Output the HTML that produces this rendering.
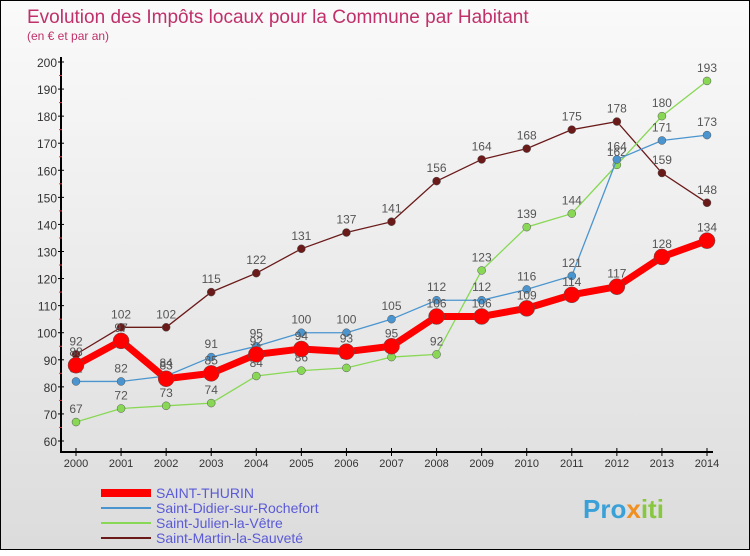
<!DOCTYPE html>
<html><head><meta charset="utf-8"><style>
body{margin:0;width:750px;height:550px;overflow:hidden;font-family:"Liberation Sans",sans-serif}
#wrap{position:absolute;left:0;top:0;width:748px;height:548px;border:1px solid #000;background:linear-gradient(#fafafa,#dcdcdc)}
</style></head><body>
<div id="wrap">
<svg id="chart" width="750" height="550"></svg>
</div>
<script>
const years=["2000","2001","2002","2003","2004","2005","2006","2007","2008","2009","2010","2011","2012","2013","2014"];
const yTicks=[60,70,80,90,100,110,120,130,140,150,160,170,180,190,200];
const thurin=[88,97,83,85,92,94,93,95,106,106,109,114,117,128,134];
const didier=[82,82,84,91,95,100,100,105,112,112,116,121,164,171,173];
const julien=[67,72,73,74,84,86,87,91,92,123,139,144,162,180,193];
const martin=[92,102,102,115,122,131,137,141,156,164,168,175,178,159,148];
const seriesNames=["SAINT-THURIN","Saint-Didier-sur-Rochefort","Saint-Julien-la-Vêtre","Saint-Martin-la-Sauveté"];
const NS="http://www.w3.org/2000/svg",svg=document.getElementById('chart');
const X=i=>75+i*(706-75)/14, Y=v=>440-(v-60)*(440-61)/140;
function el(t,a,p){const e=document.createElementNS(NS,t);for(const k in a)e.setAttribute(k,a[k]);(p||svg).appendChild(e);return e;}
function txt(x,y,s,a){const e=el('text',Object.assign({x:x,y:y},a));e.textContent=s;return e;}
let t=txt(26,22,"Evolution des Impôts locaux pour la Commune par Habitant",{fill:"#c0306a","font-size":19});

t=txt(26,39,"(en € et par an)",{fill:"#c0306a","font-size":12});

let ax=el('line',{x1:60,y1:56,x2:60,y2:452,stroke:"#000","stroke-width":2});

ax=el('line',{x1:60,y1:451,x2:712,y2:451,stroke:"#000","stroke-width":2});

yTicks.forEach(v=>{el('line',{x1:57,y1:Y(v),x2:63,y2:Y(v),stroke:"#000"});
 if(v<200)el('line',{x1:58,y1:Y(v+5),x2:61,y2:Y(v+5),stroke:"#e33"});
 const l=txt(56,Y(v)+5,v,{"text-anchor":"end","font-size":12,fill:"#333"});
 });
years.forEach((y,i)=>{el('line',{x1:X(i),y1:447,x2:X(i),y2:455,stroke:"#000"});
 const l=txt(X(i),466,y,{"text-anchor":"middle","font-size":11,fill:"#333"});
 });
const series=[[martin,"#6b1a1a",1.3,4,"saint-martin"],[julien,"#88d855",1.3,4,"saint-julien"],[didier,"#4a95cf",1.3,4,"saint-didier"],[thurin,"#ff0000",7,8,"saint-thurin"]];
series.forEach(([d,c,w,r,n])=>{
 const g=el('g',{});
 el('polyline',{points:d.map((v,i)=>X(i)+","+Y(v)).join(" "),fill:"none",stroke:c,"stroke-width":w},g);
 d.forEach((v,i)=>{const p=el('circle',{cx:X(i),cy:Y(v),r:r,fill:c,stroke:"#555","stroke-width":0.5},g);
  
  const l=txt(X(i),Y(v)-9,v,{"text-anchor":"middle","font-size":12,fill:"#555"},g);
  });
});
const cols=["#ff0000","#4a95cf","#88d855","#6b1a1a"],ws=[8,2,2,2];
seriesNames.forEach((s,i)=>{const g=el('g',{});
 el('line',{x1:100,y1:492+i*15,x2:150,y2:492+i*15,stroke:cols[i],"stroke-width":ws[i]},g);
 txt(155,497+i*15,s,{"font-size":14,fill:"#5a5ad8"},g);});
t=txt(582,517,"Pro",{"font-size":26,fill:"#3aa0d8","font-weight":"bold"});

const ts=el('tspan',{fill:"#f09020"},t);ts.textContent="x";
const ts2=el('tspan',{fill:"#88c840"},t);ts2.textContent="iti";
</script>
</body></html>
